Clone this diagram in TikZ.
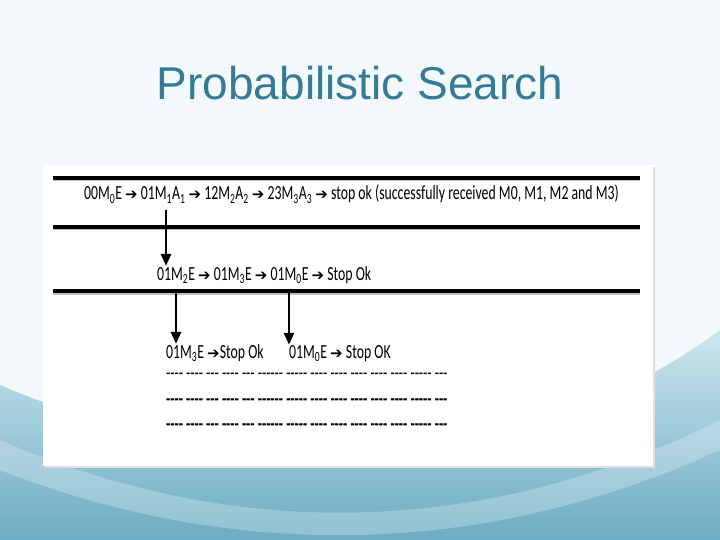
\documentclass[tikz,border=0pt]{standalone}
\usepackage{fontspec}
\setmainfont{Carlito}[FakeStretch=0.69]
\newfontfamily\titlefont{Liberation Sans}
\newfontfamily\arrowfont{DejaVu Sans}
\usetikzlibrary{arrows.meta}
\definecolor{ttl}{RGB}{52,124,150}
\definecolor{bgl}{RGB}{243,249,251}
\definecolor{tlight}{RGB}{205,230,238}
\definecolor{tdark}{RGB}{108,172,194}
\newcommand{\ra}{{\arrowfont\fontsize{15}{16}\selectfont ➔}}
\newcommand{\sbs}[1]{\textsubscript{#1}}
\newcommand{\dg}[1]{\foreach \i in {1,...,#1}{-\kern0pt}}
\tikzstyle{bar}=[line width=3.5pt]
\tikzstyle{barshadow}=[line width=3pt, black!25]
\tikzstyle{down}=[line width=2.6pt, -{Triangle[length=12pt,width=10pt]}]
\tikzstyle{txt}=[anchor=base west, inner sep=0pt, font=\fontsize{20}{22}\selectfont]
\begin{document}
\begin{tikzpicture}[x=1pt, y=-1pt]
      \useasboundingbox (0,0) rectangle (720,540);

      % slide background
      \fill[bgl] (0,0) rectangle (720,540);
      \shade[top color=tlight, bottom color=tdark]
        (0,385) .. controls (220,480) and (520,480) .. (720,330)
        -- (720,540) -- (0,540) -- cycle;
      \fill[white, opacity=.25]
        (0,440) .. controls (230,540) and (480,540) .. (720,420)
        -- (720,450) .. controls (480,560) and (230,560) .. (0,470) -- cycle;

      \node[text=ttl, font=\titlefont\fontsize{46}{50}\selectfont,
            inner sep=0pt, anchor=base] (title) at (360,100) {Probabilistic Search};

      % picture
      \fill[black!12] (45,167) rectangle (655,468);
      \fill[white] (43,165) rectangle (653,466);

      \coordinate (L1) at (53,178);  \coordinate (R1) at (640,178);
      \coordinate (L2) at (53,227);  \coordinate (R2) at (640,227);
      \coordinate (L3) at (53,291);  \coordinate (R3) at (640,291);
      \foreach \b in {1,2,3}{
        \draw[barshadow] ([yshift=-2pt]L\b) -- ([yshift=-2pt]R\b);
        \draw[bar] (L\b) -- (R\b);
      }

      \node[txt] (r1) at (84,200) {00M\sbs{0}E \ra{} 01M\sbs{1}A\sbs{1} \ra{} 12M\sbs{2}A\sbs{2} \ra{} 23M\sbs{3}A\sbs{3} \ra{} stop ok (successfully received M0, M1, M2 and M3)};
      \node[txt] (r2) at (157,280) {01M\sbs{2}E \ra{} 01M\sbs{3}E \ra{} 01M\sbs{0}E \ra{} Stop Ok};
      \node[txt] (r3a) at (166,358) {01M\sbs{3}E \ra{}Stop Ok};
      \node[txt] (r3b) at (289,358) {01M\sbs{0}E \ra{} Stop OK};

      \coordinate (s1) at (166,210);
      \coordinate (s2) at (176,291);
      \coordinate (s3) at (289,291);
      \draw[down] (s1) -- (s1 |- r2.north);
      \draw[down] (s2) -- (s2 |- r3a.north);
      \draw[down] (s3) -- (s3 |- r3b.north);

      % dashes
      \foreach \y/\w [count=\n] in {379/\mdseries, 405/\bfseries, 430/\bfseries}
        \node[txt, font=\fontsize{20}{22}\selectfont\w] (d\n) at (166,\y)
          {\dg4 \dg4 \dg3 \dg4 \dg3 \dg6 \dg5 \dg4 \dg4 \dg4 \dg4 \dg4 \dg5 \dg3};

    \end{tikzpicture}
\end{document}
